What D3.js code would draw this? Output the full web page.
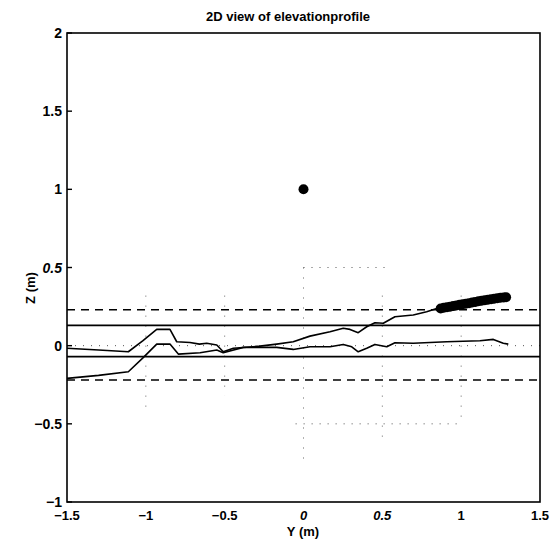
<!DOCTYPE html>
<html>
<head>
<meta charset="utf-8">
<script src="https://cdn.jsdelivr.net/npm/d3@7"></script>
<style>
  body { margin: 0; background: #fff; }
  text { font-family: "Liberation Sans", Arial, sans-serif; fill: #000; }
</style>
</head>
<body>
<div id="svg-wrapper"></div>
<script>
var width = 552;
var height = 543;

// tick values and labels (the scan shows some labels in italics)
var xTicks = [-1.5, -1, -0.5, 0, 0.5, 1, 1.5];
var xTickLabels = ["\u22121.5", "\u22121", "\u22120.5", "0", "0.5", "1", "1.5"];
var xTickItalic = [false, false, false, true, true, false, false];
var yTicks = [-1, -0.5, 0, 0.5, 1, 1.5, 2];
var yTickLabels = ["\u22121", "\u22120.5", "0", "0.5", "1", "1.5", "2"];
var yTickItalic = [false, false, false, true, false, false, false];

// horizontal reference levels (Z, m)
var solidLevels = [0.13, -0.07];
var dashedLevels = [0.23, -0.22];

// upper profile trace [Y, Z]
var profileTop = [
  [-1.5, -0.017], [-1.3, -0.028], [-1.111, -0.039], [-1.02, 0.03], [-0.931, 0.104],
  [-0.847, 0.104], [-0.804, 0.025], [-0.72, 0.02], [-0.66, 0.01], [-0.614, 0.015],
  [-0.55, 0.004], [-0.509, -0.039], [-0.445, -0.017], [-0.36, -0.01], [-0.276, -0.003],
  [-0.17, 0.01], [-0.065, 0.025], [0.041, 0.061], [0.168, 0.089], [0.252, 0.111],
  [0.295, 0.104], [0.347, 0.083], [0.401, 0.121], [0.453, 0.147], [0.506, 0.143],
  [0.58, 0.185], [0.696, 0.196], [0.781, 0.217], [0.845, 0.238]
];

// lower profile trace [Y, Z]
var profileBottom = [
  [-1.5, -0.209], [-1.3, -0.19], [-1.111, -0.167], [-1.02, -0.08], [-0.931, 0.01],
  [-0.847, 0.01], [-0.794, -0.054], [-0.656, -0.045], [-0.55, -0.028], [-0.509, -0.045],
  [-0.382, -0.011], [-0.17, -0.011], [-0.065, -0.024], [0.041, -0.007], [0.168, -0.007],
  [0.252, 0.008], [0.306, -0.007], [0.347, -0.039], [0.401, -0.017], [0.453, 0.008],
  [0.528, -0.007], [0.58, 0.019], [0.696, 0.015], [0.908, 0.025], [1.119, 0.031],
  [1.204, 0.04], [1.267, 0.015], [1.299, 0.01]
];

// measured points (markers)
var markerPoints = [
  [0, 1],
  [0.87, 0.238], [0.89, 0.242], [0.91, 0.246], [0.93, 0.249], [0.95, 0.253],
  [0.97, 0.257], [0.99, 0.261], [1.01, 0.265], [1.03, 0.268], [1.05, 0.272],
  [1.07, 0.276], [1.09, 0.28], [1.11, 0.284], [1.13, 0.287], [1.15, 0.291],
  [1.17, 0.294], [1.19, 0.297], [1.21, 0.3], [1.23, 0.303], [1.25, 0.306],
  [1.27, 0.308], [1.285, 0.31]
];

// faint dotted grid pieces left by the scan: [Y, Zfrom, Zto] and [Z, Yfrom, Yto]
var gridV = [[-1, 0.32, -0.39], [-0.5, 0.32, -0.32], [0, 0.5, -0.77], [0.5, 0.32, -0.6], [1, 0.32, -0.5]];
var gridH = [[0, -1.5, 1.5], [0.5, 0, 0.52], [-0.5, -0.05, 1]];

var x = d3.scaleLinear().domain([-1.5, 1.5]).range([67, 540]);
var y = d3.scaleLinear().domain([-1, 2]).range([502, 33]);

var svg = d3.select("#svg-wrapper")
  .append("svg")
  .attr("width", width)
  .attr("height", height);

// dotted grid (sparse, as in the scan)
svg.append("g")
  .attr("stroke", "#666")
  .attr("stroke-width", 1)
  .attr("stroke-dasharray", "1,9")
  .selectAll("line")
  .data(gridV)
  .join("line")
  .attr("x1", d => x(d[0])).attr("x2", d => x(d[0]))
  .attr("y1", d => y(d[1])).attr("y2", d => y(d[2]));

svg.append("g")
  .attr("stroke", "#555")
  .attr("stroke-width", 1)
  .attr("stroke-dasharray", "1,7")
  .selectAll("line")
  .data(gridH)
  .join("line")
  .attr("x1", d => x(d[1])).attr("x2", d => x(d[2]))
  .attr("y1", d => y(d[0])).attr("y2", d => y(d[0]));

// reference levels
svg.append("g")
  .attr("stroke", "#000")
  .attr("stroke-width", 1.6)
  .selectAll("line")
  .data(solidLevels)
  .join("line")
  .attr("x1", x(-1.5)).attr("x2", x(1.5))
  .attr("y1", d => y(d)).attr("y2", d => y(d));

svg.append("g")
  .attr("stroke", "#000")
  .attr("stroke-width", 1.6)
  .attr("stroke-dasharray", "8,6")
  .selectAll("line")
  .data(dashedLevels)
  .join("line")
  .attr("x1", x(-1.5)).attr("x2", x(1.5))
  .attr("y1", d => y(d)).attr("y2", d => y(d));

// profile traces
var line = d3.line().x(d => x(d[0])).y(d => y(d[1]));
svg.append("g")
  .attr("fill", "none")
  .attr("stroke", "#000")
  .attr("stroke-width", 1.6)
  .attr("stroke-linejoin", "round")
  .selectAll("path")
  .data([profileTop, profileBottom])
  .join("path")
  .attr("d", line);

// markers
svg.append("g")
  .selectAll("circle")
  .data(markerPoints)
  .join("circle")
  .attr("cx", d => x(d[0]))
  .attr("cy", d => y(d[1]))
  .attr("r", 5)
  .attr("fill", "#000");

// axes box
svg.append("rect")
  .attr("x", x(-1.5)).attr("y", y(2))
  .attr("width", x(1.5) - x(-1.5))
  .attr("height", y(-1) - y(2))
  .attr("fill", "none")
  .attr("stroke", "#000")
  .attr("stroke-width", 1.6);

// left ticks (inward)
svg.append("g")
  .attr("stroke", "#000")
  .attr("stroke-width", 1.4)
  .selectAll("line")
  .data(yTicks)
  .join("line")
  .attr("x1", x(-1.5)).attr("x2", x(-1.5) + 5)
  .attr("y1", d => y(d)).attr("y2", d => y(d));

// tick labels
svg.append("g")
  .selectAll("text")
  .data(yTicks)
  .join("text")
  .attr("x", 62)
  .attr("y", d => y(d) + 5)
  .attr("text-anchor", "end")
  .attr("font-size", 14)
  .attr("font-weight", "bold")
  .attr("font-style", (d, i) => yTickItalic[i] ? "italic" : "normal")
  .text((d, i) => yTickLabels[i]);

svg.append("g")
  .selectAll("text")
  .data(xTicks)
  .join("text")
  .attr("x", d => x(d))
  .attr("y", 520)
  .attr("text-anchor", "middle")
  .attr("font-size", 13)
  .attr("font-weight", "bold")
  .attr("font-style", (d, i) => xTickItalic[i] ? "italic" : "normal")
  .text((d, i) => xTickLabels[i]);

// titles
svg.append("text")
  .attr("x", 288)
  .attr("y", 21)
  .attr("text-anchor", "middle")
  .attr("font-size", 13)
  .attr("font-weight", "bold")
  .text("2D view of elevationprofile");

svg.append("text")
  .attr("x", 303)
  .attr("y", 536)
  .attr("text-anchor", "middle")
  .attr("font-size", 13)
  .attr("font-weight", "bold")
  .text("Y (m)");

svg.append("text")
  .attr("transform", "translate(35,288) rotate(-90)")
  .attr("text-anchor", "middle")
  .attr("font-size", 13)
  .attr("font-weight", "bold")
  .text("Z (m)");
</script>
</body>
</html>
